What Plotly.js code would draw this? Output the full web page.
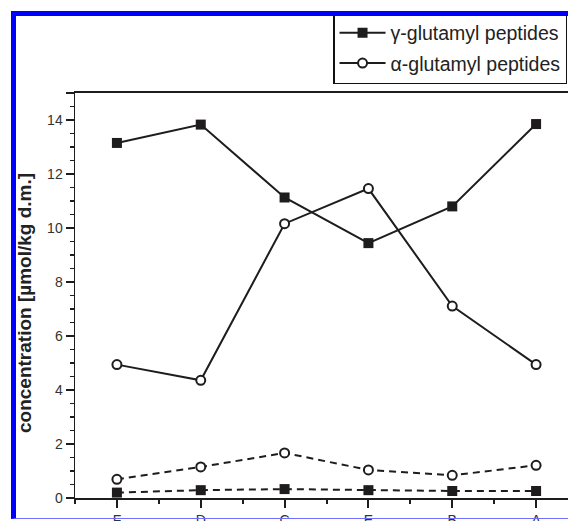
<!DOCTYPE html>
<html>
<head>
<meta charset="utf-8">
<script src="https://cdn.plot.ly/plotly-3.0.1.min.js"></script>
<style>
html, body { margin: 0; padding: 0; overflow: hidden; background: #fff; }
#wrap { position: relative; width: 568px; height: 521px; overflow: hidden; }
#chart { position: absolute; left: 0; top: 0; width: 600px; height: 560px; }
#frame { position: absolute; left: 11px; top: 11px; width: 600px; height: 502px;
  border-left: 5px solid #0000ff; border-top: 5px solid #0000ff; border-bottom: 1px solid #6f6fff;
  pointer-events: none; z-index: 10; }
</style>
</head>
<body>
<div id="wrap">
  <div id="chart"></div>
  <div id="frame"></div>
</div>
<script>
const categories = ['F', 'D', 'C', 'E', 'B', 'A'];
const gammaMain = [13.15, 13.83, 11.13, 9.44, 10.80, 13.85];
const alphaMain = [4.94, 4.36, 10.16, 11.46, 7.11, 4.94];
const gammaMinor = [0.20, 0.29, 0.33, 0.29, 0.26, 0.26];
const alphaMinor = [0.69, 1.15, 1.67, 1.04, 0.84, 1.21];
const yTickVals = [0, 2, 4, 6, 8, 10, 12, 14, 15];
const yTickText = ['0', '2', '4', '6', '8', '10', '12', '14', ''];
const seriesNames = ['\u03b3-glutamyl peptides', '\u03b1-glutamyl peptides'];
const yTitle = 'concentration [\u00b5mol/kg d.m.]';

const xIdx = categories.map((c, i) => i);
const ink = '#1e1c1d';

const sq = { symbol: 'square', size: 10, color: ink, line: { color: ink, width: 0 } };
const circ = { symbol: 'circle', size: 9, color: '#ffffff', line: { color: ink, width: 2 } };

const traces = [
  { x: xIdx, y: gammaMain, name: seriesNames[0], mode: 'lines+markers', legendgroup: 'g',
    line: { color: ink, width: 2 }, marker: sq },
  { x: xIdx, y: alphaMain, name: seriesNames[1], mode: 'lines+markers', legendgroup: 'a',
    line: { color: ink, width: 2 }, marker: circ },
  { x: xIdx, y: gammaMinor, name: seriesNames[0], mode: 'lines+markers', showlegend: false,
    line: { color: ink, width: 2, dash: '7px,5px' }, marker: sq },
  { x: xIdx, y: alphaMinor, name: seriesNames[1], mode: 'lines+markers', showlegend: false,
    line: { color: ink, width: 2, dash: '7px,5px' }, marker: circ }
];

const layout = {
  width: 600, height: 560,
  margin: { l: 75, r: 22, t: 93, b: 62 },
  paper_bgcolor: '#ffffff', plot_bgcolor: '#ffffff',
  font: { family: 'Liberation Sans, Arial, sans-serif', color: '#333333', size: 14 },
  showlegend: true,
  legend: {
    x: 0.513, y: 1.2, xanchor: 'left', yanchor: 'top',
    bgcolor: '#ffffff', bordercolor: '#111111', borderwidth: 1.5,
    font: { family: 'Liberation Sans, Arial, sans-serif', size: 19.5, color: '#222222' },
    traceorder: 'grouped', tracegroupgap: 2, itemwidth: 46
  },
  xaxis: {
    range: [-0.5, 5.5], tickvals: xIdx, ticktext: categories,
    showgrid: false, zeroline: false, showline: true, linecolor: ink, linewidth: 2, mirror: true,
    ticks: 'outside', ticklen: 8, tickwidth: 2, tickcolor: ink,
    minor: { tickvals: [-0.5, 0.5, 1.5, 2.5, 3.5, 4.5, 5.5], ticks: 'outside', ticklen: 4, tickwidth: 2, tickcolor: ink },
    tickfont: { size: 14, color: '#333333' }, fixedrange: true
  },
  yaxis: {
    range: [0, 15], tickvals: yTickVals, ticktext: yTickText,
    showgrid: false, zeroline: false, showline: true, linecolor: ink, linewidth: 1.5,
    ticks: 'outside', ticklen: 8, tickwidth: 1.5, tickcolor: ink,
    minor: { dtick: 0.5, tick0: 0, ticks: 'outside', ticklen: 4, tickwidth: 1.5, tickcolor: ink },
    tickfont: { size: 14, color: '#333333' },
    fixedrange: true
  },
  annotations: [{
    text: yTitle, xref: 'paper', yref: 'paper', x: -0.0994, y: 0.4815,
    xanchor: 'center', yanchor: 'middle', textangle: -90, showarrow: false,
    font: { family: 'Liberation Sans, Arial, sans-serif', size: 19, color: '#222222', weight: 'bold' }
  }]
};

Plotly.newPlot('chart', traces, layout, { displayModeBar: false, staticPlot: true });
</script>
</body>
</html>
